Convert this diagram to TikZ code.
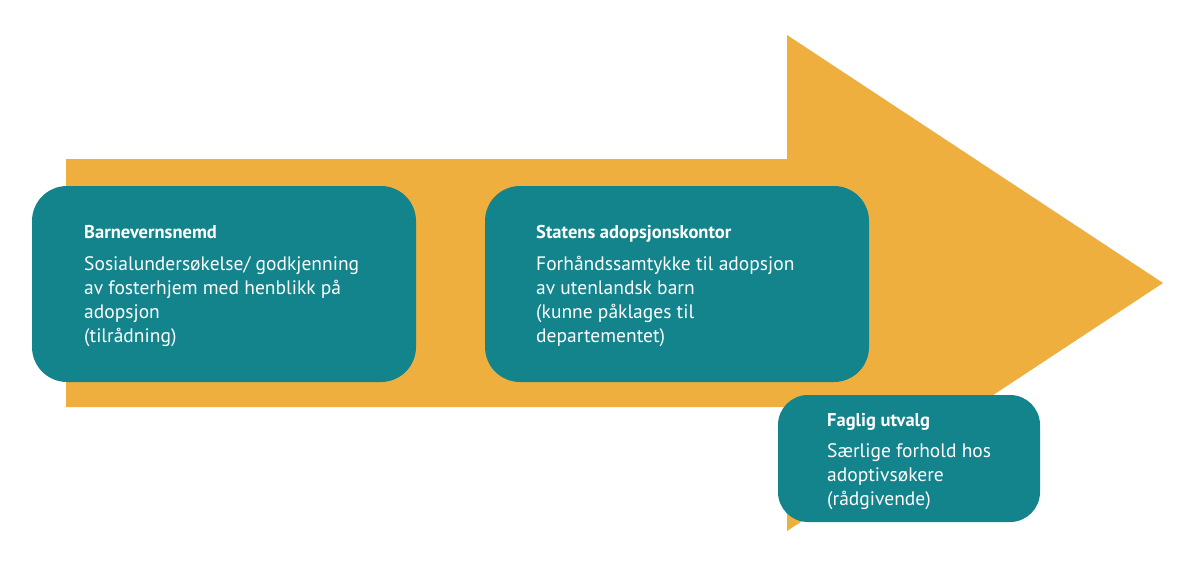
\documentclass[tikz,border=0pt]{standalone}
\usepackage{fontspec}
\setmainfont{PT Sans}
\definecolor{arroworange}{HTML}{EFAF3E}
\definecolor{boxteal}{HTML}{13838C}
\begin{document}
\begin{tikzpicture}[x=1pt,y=-1pt,
  box/.style={fill=boxteal, draw=none, rounded corners=35pt, inner sep=0pt},
  title/.style={anchor=base west, inner sep=0pt, text=white, font=\fontsize{18.5}{24}\selectfont\bfseries},
  body/.style={anchor=base west, inner sep=0pt, text=white, align=left, font=\fontsize{19.5}{24}\selectfont}]
\useasboundingbox (0,0) rectangle (1198,568);
\fill[arroworange] (66,159) -- (787,159) -- (787,35) -- (1163,283) -- (787,531) -- (787,407) -- (66,407) -- cycle;
\node[box, minimum width=384pt, minimum height=196pt] (b1) at (224,284) {};
\node[box, minimum width=384pt, minimum height=196pt] (b2) at (677,284) {};
\node[box, rounded corners=30pt, minimum width=262pt, minimum height=127pt] (b3) at (909,458.5) {};
\node[title] (t1) at (84,238) {Barnevernsnemd};
\node[body] (d1) at (84,342) {Sosialundersøkelse/ godkjenning\\av fosterhjem med henblikk på\\adopsjon\\(tilrådning)};
\node[title] (t2) at (536,238) {Statens adopsjonskontor};
\node[body] (d2) at (536,342) {Forhåndssamtykke til adopsjon\\av utenlandsk barn\\(kunne påklages til\\departementet)};
\node[title] (t3) at (827,426) {Faglig utvalg};
\node[body] (d3) at (827,505) {Særlige forhold hos\\adoptivsøkere\\(rådgivende)};
\end{tikzpicture}
\end{document}
